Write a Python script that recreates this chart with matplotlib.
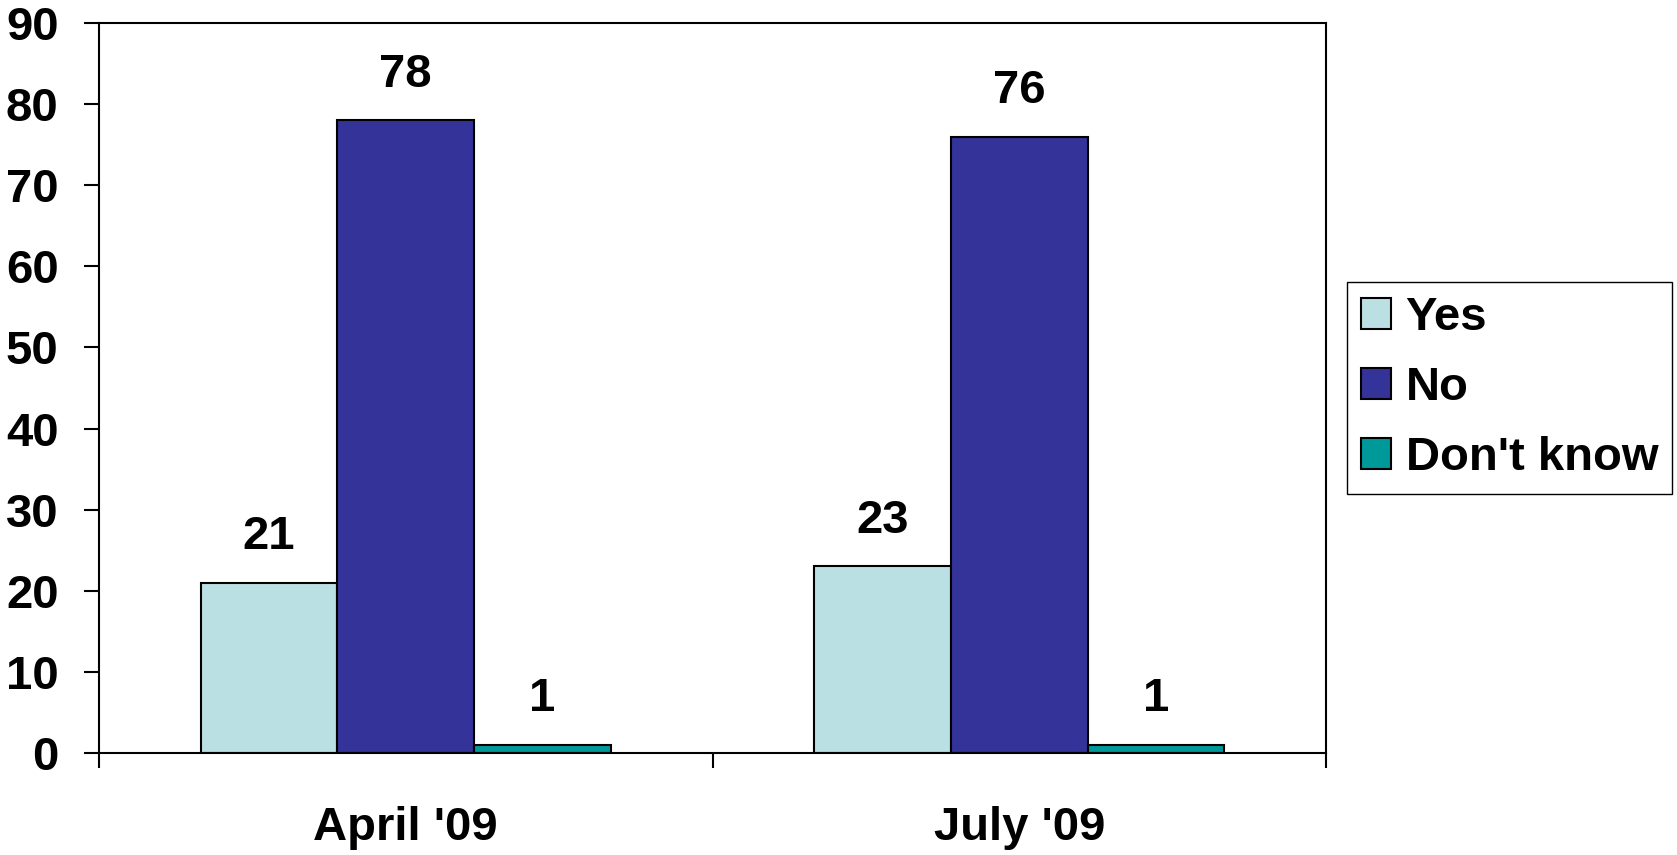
import matplotlib.pyplot as plt
import numpy as np

plt.rcParams['font.family'] = ['Liberation Sans', 'DejaVu Sans']
plt.rcParams['font.weight'] = 'bold'

periods = ["April '09", "July '09"]
series = ["Yes", "No", "Don't know"]
values = {
    "Yes": [21, 23],
    "No": [78, 76],
    "Don't know": [1, 1],
}
colors = ["#BBE0E3", "#333399", "#009999"]

fig = plt.figure(figsize=(16.77, 8.55), dpi=100)
ax = fig.add_axes([99 / 1677, 102 / 855, 1227 / 1677, 730 / 855])

x = np.arange(len(periods)) + 0.5
width = 0.668 / 3
for i, (name, col) in enumerate(zip(series, colors)):
    pos = x + (i - 1) * width
    bars = ax.bar(pos, values[name], width, color=col, edgecolor='black',
                  linewidth=1.5, label=name, zorder=2)
    for b, v in zip(bars, values[name]):
        ax.annotate(str(v), (b.get_x() + b.get_width() / 2, v),
                    xytext=(0, 17), textcoords='offset points',
                    ha='center', va='bottom', fontsize=34, fontweight='bold')

ax.set_xlim(0, len(periods))
ax.set_ylim(0, 90)
ax.set_yticks(range(0, 91, 10))
ax.set_xticks(range(len(periods) + 1))
ax.set_xticklabels([])
ax.set_xticks(x, minor=True)
ax.set_xticklabels(periods, minor=True)
ax.tick_params(axis='x', which='major', direction='out', length=11, width=1.5)
ax.tick_params(axis='x', which='minor', length=0, pad=38, labelsize=34)
ax.tick_params(axis='y', direction='out', length=11, width=1.5, pad=18, labelsize=34)
for s in ax.spines.values():
    s.set_linewidth(1.5)

fig.legend(loc='upper left', bbox_to_anchor=(1347 / 1677, 1 - 282 / 855),
           borderaxespad=0, fancybox=False, edgecolor='black', framealpha=1,
           fontsize=34, handlelength=0.64, handleheight=0.64, handletextpad=0.3,
           labelspacing=0.55, borderpad=0.3)

fig.savefig('out.png', dpi=100)
